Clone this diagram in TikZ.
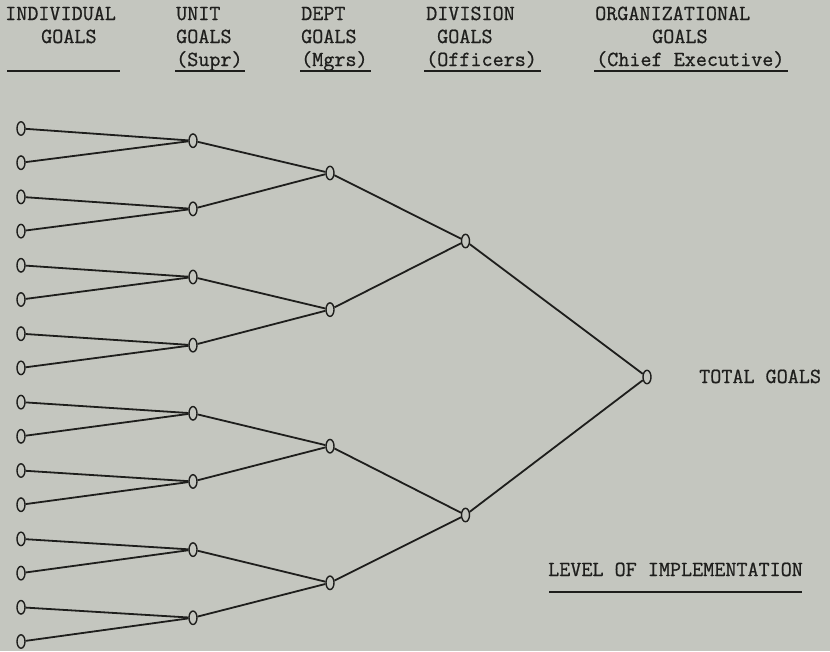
\documentclass[tikz,border=0pt]{standalone}
\usepackage{fontspec}
\newfontfamily\tw[FakeBold=0.8]{Latin Modern Mono}
\usetikzlibrary{shapes.geometric}
\definecolor{paper}{RGB}{196,198,191}
\definecolor{ink}{RGB}{30,30,28}
\tikzset{
  goal/.style={ellipse,draw=ink,line width=1.4pt,minimum width=8pt,minimum height=13.5pt,inner sep=0pt},
  link/.style={draw=ink,line width=1.8pt},
  lbl/.style={anchor=base west,inner sep=0pt,text=ink,font=\tw\fontsize{21.5}{23}\selectfont},
  rule/.style={draw=ink,line width=1.4pt}
}
\begin{document}
\begin{tikzpicture}[x=1pt,y=-1pt]
\fill[paper] (0,0) rectangle (830,651);
\useasboundingbox (0,0) rectangle (830,651);
% headers
\node[lbl] (h1a) at (5,20) {INDIVIDUAL};
\node[lbl] (h1b) at (41,43) {GOALS};
\node[lbl] (h2a) at (176,20) {UNIT};
\node[lbl] (h2b) at (176,43) {GOALS};
\node[lbl] (h2c) at (176,66) {(Supr)};
\node[lbl] (h3a) at (301,20) {DEPT};
\node[lbl] (h3b) at (301,43) {GOALS};
\node[lbl] (h3c) at (301,66) {(Mgrs)};
\node[lbl] (h4a) at (426,20) {DIVISION};
\node[lbl] (h4b) at (437,43) {GOALS};
\node[lbl] (h4c) at (426,66) {(Officers)};
\node[lbl] (h5a) at (595,20) {ORGANIZATIONAL};
\node[lbl] (h5b) at (652,43) {GOALS};
\node[lbl] (h5c) at (596,66) {(Chief Executive)};
\draw[rule] (7,71) -- (120,71);
\draw[rule] (175,71) -- (245,71);
\draw[rule] (300,71) -- (371,71);
\draw[rule] (424,71) -- (541,71);
\draw[rule] (594,71) -- (788,71);
% tree nodes
\foreach \i in {0,...,15} {
  \node[goal] (l\i) at (21,{128.5+34.2*\i}) {};
}
\foreach \i in {0,...,7} {
  \node[goal] (u\i) at (193,{140.7+68.15*\i}) {};
}
\foreach \i in {0,...,3} {
  \node[goal] (d\i) at (330,{173+136.6*\i}) {};
}
\node[goal] (v0) at (465.5,241) {};
\node[goal] (v1) at (465.5,515) {};
\node[goal] (t) at (647,377) {};
% connectors
\foreach \i in {0,...,7} {
  \pgfmathtruncatemacro\a{2*\i}
  \pgfmathtruncatemacro\b{2*\i+1}
  \draw[link] (l\a) -- (u\i);
  \draw[link] (l\b) -- (u\i);
}
\foreach \i in {0,...,3} {
  \pgfmathtruncatemacro\a{2*\i}
  \pgfmathtruncatemacro\b{2*\i+1}
  \draw[link] (u\a) -- (d\i);
  \draw[link] (u\b) -- (d\i);
}
\draw[link] (d0) -- (v0);
\draw[link] (d1) -- (v0);
\draw[link] (d2) -- (v1);
\draw[link] (d3) -- (v1);
\draw[link] (v0) -- (t);
\draw[link] (v1) -- (t);
% labels
\node[lbl] (tg) at (699,383) {TOTAL GOALS};
\node[lbl] (loi) at (548,576) {LEVEL OF IMPLEMENTATION};
\draw[rule] (549,592) -- (802,592);
\end{tikzpicture}
\end{document}
